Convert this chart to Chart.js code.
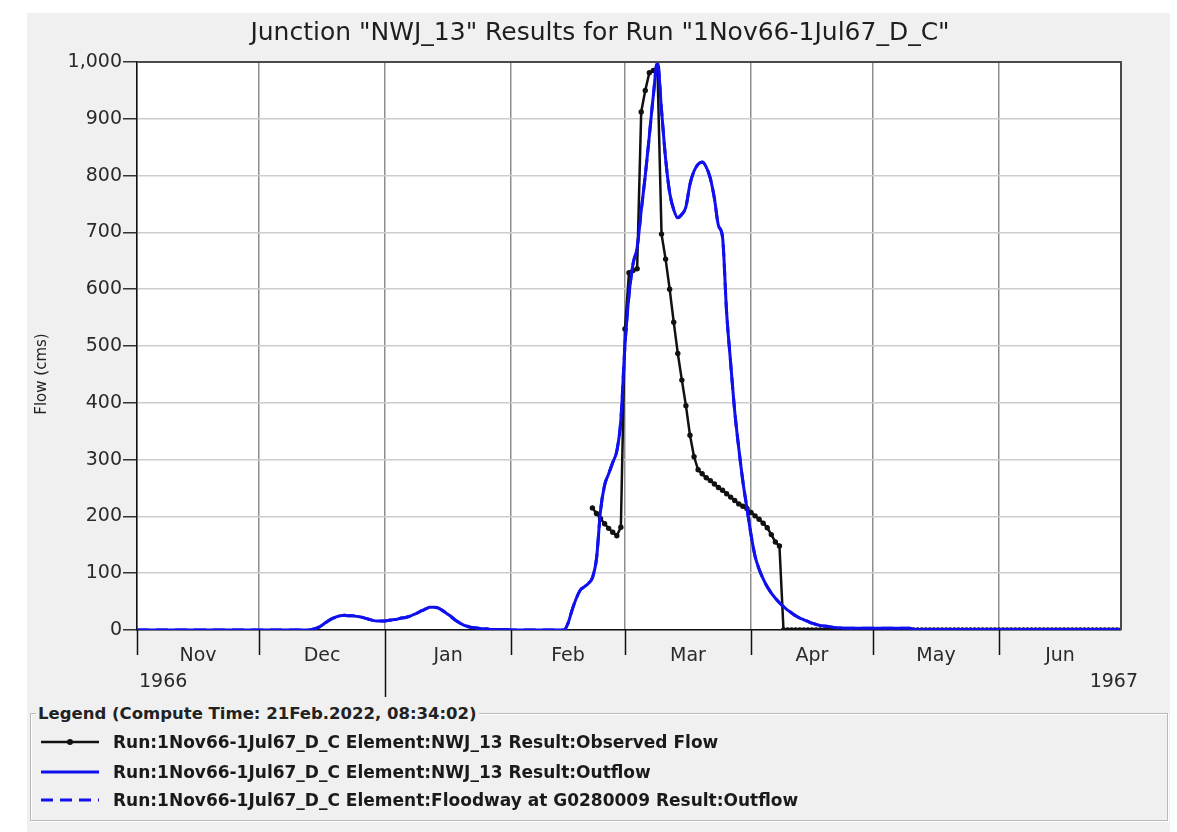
<!DOCTYPE html>
<html>
<head>
<meta charset="utf-8">
<script src="https://cdn.jsdelivr.net/npm/chart.js@4.4.1/dist/chart.umd.min.js"></script>
<style>
  body { margin: 0; background: #fff; font-family: "DejaVu Sans", sans-serif; }
  #wrap { position: relative; width: 1177px; height: 832px; overflow: hidden; }
  #panel { position: absolute; left: 27px; top: 13px; width: 1143px; height: 819px; background: #f0f0f0; }
  #chart { position: absolute; left: 0; top: 0; }
  #legend {
    position: absolute; left: 30px; top: 713px; width: 1136px; height: 106px;
    border: 1px solid #b9b9b9; box-shadow: inset 1px 1px 0 #fff, 1px 1px 0 #fff;
  }
  #legend .title {
    position: absolute; left: 5px; top: -10px; padding: 0 2px;
    background: #f0f0f0; font-size: 16.5px; font-weight: bold; color: #222; white-space: nowrap;
  }
  #legend .row { position: absolute; left: 9px; height: 20px; white-space: nowrap; }
  #legend svg { position: absolute; left: 0; top: 0; }
  #legend .row span { position: absolute; left: 73px; top: 0; font-size: 17px; font-weight: bold; line-height: 20px; color: #1a1a1a; }
</style>
</head>
<body>
<div id="wrap">
  <div id="panel"></div>
  <canvas id="chart" width="1177" height="832"></canvas>
  <div id="legend">
    <span class="title">Legend (Compute Time: 21Feb.2022, 08:34:02)</span>
    <div class="row" style="top:18px">
      <svg width="62" height="20"><line x1="1" y1="10" x2="59" y2="10" stroke="#111" stroke-width="2.5"/><circle cx="30" cy="10" r="3" fill="#111"/></svg>
      <span>Run:1Nov66-1Jul67_D_C Element:NWJ_13 Result:Observed Flow</span>
    </div>
    <div class="row" style="top:48px">
      <svg width="62" height="20"><line x1="1" y1="10" x2="59" y2="10" stroke="#1010ee" stroke-width="3"/></svg>
      <span>Run:1Nov66-1Jul67_D_C Element:NWJ_13 Result:Outflow</span>
    </div>
    <div class="row" style="top:76px">
      <svg width="62" height="20"><line x1="1" y1="10" x2="59" y2="10" stroke="#1010ee" stroke-width="3" stroke-dasharray="12 7"/></svg>
      <span>Run:1Nov66-1Jul67_D_C Element:Floodway at G0280009 Result:Outflow</span>
    </div>
  </div>
</div>
<script>
const monthNames = ['Nov', 'Dec', 'Jan', 'Feb', 'Mar', 'Apr', 'May', 'Jun'];
const monthDays = [30, 31, 31, 28, 31, 30, 31, 30];
const yearLabels = ['1966', '1967'];
const flowMax = 1000;
const flowStep = 100;

// simulated outflow at NWJ_13, cms, one value per day (midnight)
const outflowNov = [0,0,0,0,0,0,0,0,0,0, 0,0,0,0,0,0,0,0,0,0, 0,0,0,0,0,0,0,0,0,0];
const outflowDec = [0,0,0,0,0,0,0,0,0,0, 0,0,0,1,3,6,11,16,20,23, 25,26,25,25,24,23,21,19,17,16, 16];
const outflowJan = [16,17,18,19,21,22,24,27,30,34, 37,40,40,39,35,30,25,19,14,10, 7,5,4,3,2,2,1,1,1,1, 1];
const outflowFeb = [0,0,0,0,0,0,0,0,0,0, 0,0,0,0,12,35,55,70,76,82, 92,125,210,255,275,295,315,370];
const outflowMar = [500,590,645,673,738,800,870,942,1000,915, 830,770,740,726,732,745,785,808,820,824, 815,795,760,712,692,560,470,385,320,262, 215];
const outflowApr = [168,130,107,90,76,65,56,48,41,35, 30,25,21,18,15,12,10,8,7,6, 5,4,4,3,3,3,3,3,3,3];
const outflowMay = [3,3,3,3,3,3,3,3,3,3, 1,1,1,1,1,1,1,1,1,1, 1,1,1,1,1,1,1,1,1,1, 1];
const outflowJun = [1,1,1,1,1,1,1,1,1,1, 1,1,1,1,1,1,1,1,1,1, 1,1,1,1,1,1,1,1,1,1];
const outflowJul = [1];

// observed flow, cms, daily from 21 Feb 1967
const observedStartDay = 112;
const observedFeb = [215,205,196,187,179,172,166,181];
const observedMar = [530,629,633,636,912,950,981,985,990,697, 653,600,542,487,440,395,343,305,282,275, 268,263,257,251,246,240,234,228,222,218, 214];
const observedApr = [207,201,195,188,180,168,155,148,0,0, 0,0,0,0,0,0,0,0,0,0, 0,0,0,0,0,0,0,0,0,0];
const observedMay = [0,0,0,0,0,0,0,0,0,0, 0,0,0,0,0,0,0,0,0,0, 0,0,0,0,0,0,0,0,0,0, 0];
const observedJun = [0,0,0,0,0,0,0,0,0,0, 0,0,0,0,0,0,0,0,0,0, 0,0,0,0,0,0,0,0,0,0];
const observedJul = [0];

const outflow = [].concat(outflowNov, outflowDec, outflowJan, outflowFeb, outflowMar,
  outflowApr, outflowMay, outflowJun, outflowJul).map((y, d) => ({ x: d, y }));
const observed = [].concat(observedFeb, observedMar, observedApr, observedMay, observedJun,
  observedJul).map((y, i) => ({ x: observedStartDay + i, y }));

// month boundaries (days after 1 Nov 1966) and mid-month label positions
const monthStart = [0];
monthDays.forEach(n => monthStart.push(monthStart[monthStart.length - 1] + n));
const monthMid = {};
monthNames.forEach((m, i) => { monthMid[monthStart[i] + monthDays[i] / 2] = m; });
const xTickValues = monthStart.concat(Object.keys(monthMid).map(Number)).sort((a, b) => a - b);
const lastDay = monthStart[monthStart.length - 1];

const textColor = '#2a2a2a';
const tickFont = { family: 'DejaVu Sans', size: 19 };

const framePlugin = {
  id: 'frame',
  beforeDraw(chart) {
    const a = chart.chartArea, ctx = chart.ctx;
    ctx.save();
    ctx.fillStyle = '#fff';
    ctx.fillRect(a.left, a.top, a.right - a.left, a.bottom - a.top);
    ctx.restore();
  },
  afterDraw(chart) {
    const a = chart.chartArea, ctx = chart.ctx, xs = chart.scales.x;
    ctx.save();
    // top and right edges of the plot
    ctx.strokeStyle = '#4a4a4a';
    ctx.lineWidth = 2;
    ctx.beginPath();
    ctx.moveTo(a.left, a.top);
    ctx.lineTo(a.right, a.top);
    ctx.lineTo(a.right, a.bottom);
    ctx.stroke();

    // month tick marks below the axis, longer one at the new year
    ctx.strokeStyle = '#111';
    ctx.lineWidth = 1.5;
    monthStart.slice(0, -1).forEach((d, i) => {
      const x = Math.round(xs.getPixelForValue(d)) + 0.5;
      ctx.beginPath();
      ctx.moveTo(x, a.bottom);
      ctx.lineTo(x, a.bottom + (monthNames[i] === 'Jan' ? 67 : 25));
      ctx.stroke();
    });

    ctx.fillStyle = textColor;
    ctx.font = '19px "DejaVu Sans"';
    ctx.textBaseline = 'middle';
    ctx.textAlign = 'left';
    ctx.fillText(yearLabels[0], a.left + 2, a.bottom + 52);
    ctx.textAlign = 'right';
    ctx.fillText(yearLabels[1], a.right + 17, a.bottom + 52);

    // title
    ctx.textAlign = 'center';
    ctx.font = '25px "DejaVu Sans"';
    ctx.fillStyle = '#1e1e1e';
    ctx.fillText('Junction "NWJ_13" Results for Run "1Nov66-1Jul67_D_C"', 600, 33);

    // y axis title
    ctx.translate(42, (a.top + a.bottom) / 2 + 28);
    ctx.rotate(-Math.PI / 2);
    ctx.font = '15px "DejaVu Sans"';
    ctx.fillStyle = '#222';
    ctx.fillText('Flow (cms)', 0, 0);
    ctx.restore();
  }
};

new Chart(document.getElementById('chart'), {
  type: 'line',
  data: {
    datasets: [{
      label: 'Run:1Nov66-1Jul67_D_C Element:NWJ_13 Result:Outflow',
      data: outflow,
      borderColor: '#1010ee',
      borderWidth: 3,
      pointRadius: 0,
      cubicInterpolationMode: 'monotone',
      order: 0
    }, {
      label: 'Run:1Nov66-1Jul67_D_C Element:NWJ_13 Result:Observed Flow',
      data: observed,
      borderColor: '#111',
      backgroundColor: '#111',
      borderWidth: 2.5,
      pointRadius: 2.7,
      pointBorderWidth: 0,
      order: 1
    }, {
      label: 'Run:1Nov66-1Jul67_D_C Element:Floodway at G0280009 Result:Outflow',
      data: outflow,
      borderColor: '#1010ee',
      borderWidth: 3,
      borderDash: [12, 7],
      pointRadius: 0,
      cubicInterpolationMode: 'monotone',
      order: 2
    }]
  },
  options: {
    responsive: false,
    animation: false,
    events: [],
    layout: { padding: { left: 0, top: 62, right: 56, bottom: 142 } },
    plugins: { legend: { display: false }, title: { display: false }, tooltip: { enabled: false } },
    scales: {
      x: {
        type: 'linear',
        min: 0,
        max: lastDay,
        afterBuildTicks(scale) { scale.ticks = xTickValues.map(v => ({ value: v })); },
        afterFit(scale) { scale.height = 60; },
        grid: {
          color: ctx => (ctx.tick && monthStart.includes(ctx.tick.value)) ? '#8e8e8e' : 'rgba(0,0,0,0)',
          lineWidth: 1.5,
          drawTicks: false
        },
        border: { color: '#111', width: 1.5 },
        ticks: {
          autoSkip: false,
          maxRotation: 0,
          padding: 15,
          color: textColor,
          font: tickFont,
          callback: v => monthMid[v] || ''
        }
      },
      y: {
        min: 0,
        max: flowMax,
        afterFit(scale) { scale.width = 137; },
        grid: { color: '#cdcdcd', lineWidth: 1.5, tickColor: '#333', tickLength: 14 },
        border: { color: '#111', width: 1.5 },
        ticks: {
          stepSize: flowStep,
          padding: 1,
          color: textColor,
          font: tickFont,
          callback: v => v.toLocaleString('en-US')
        }
      }
    }
  },
  plugins: [framePlugin]
});
</script>
</body>
</html>
